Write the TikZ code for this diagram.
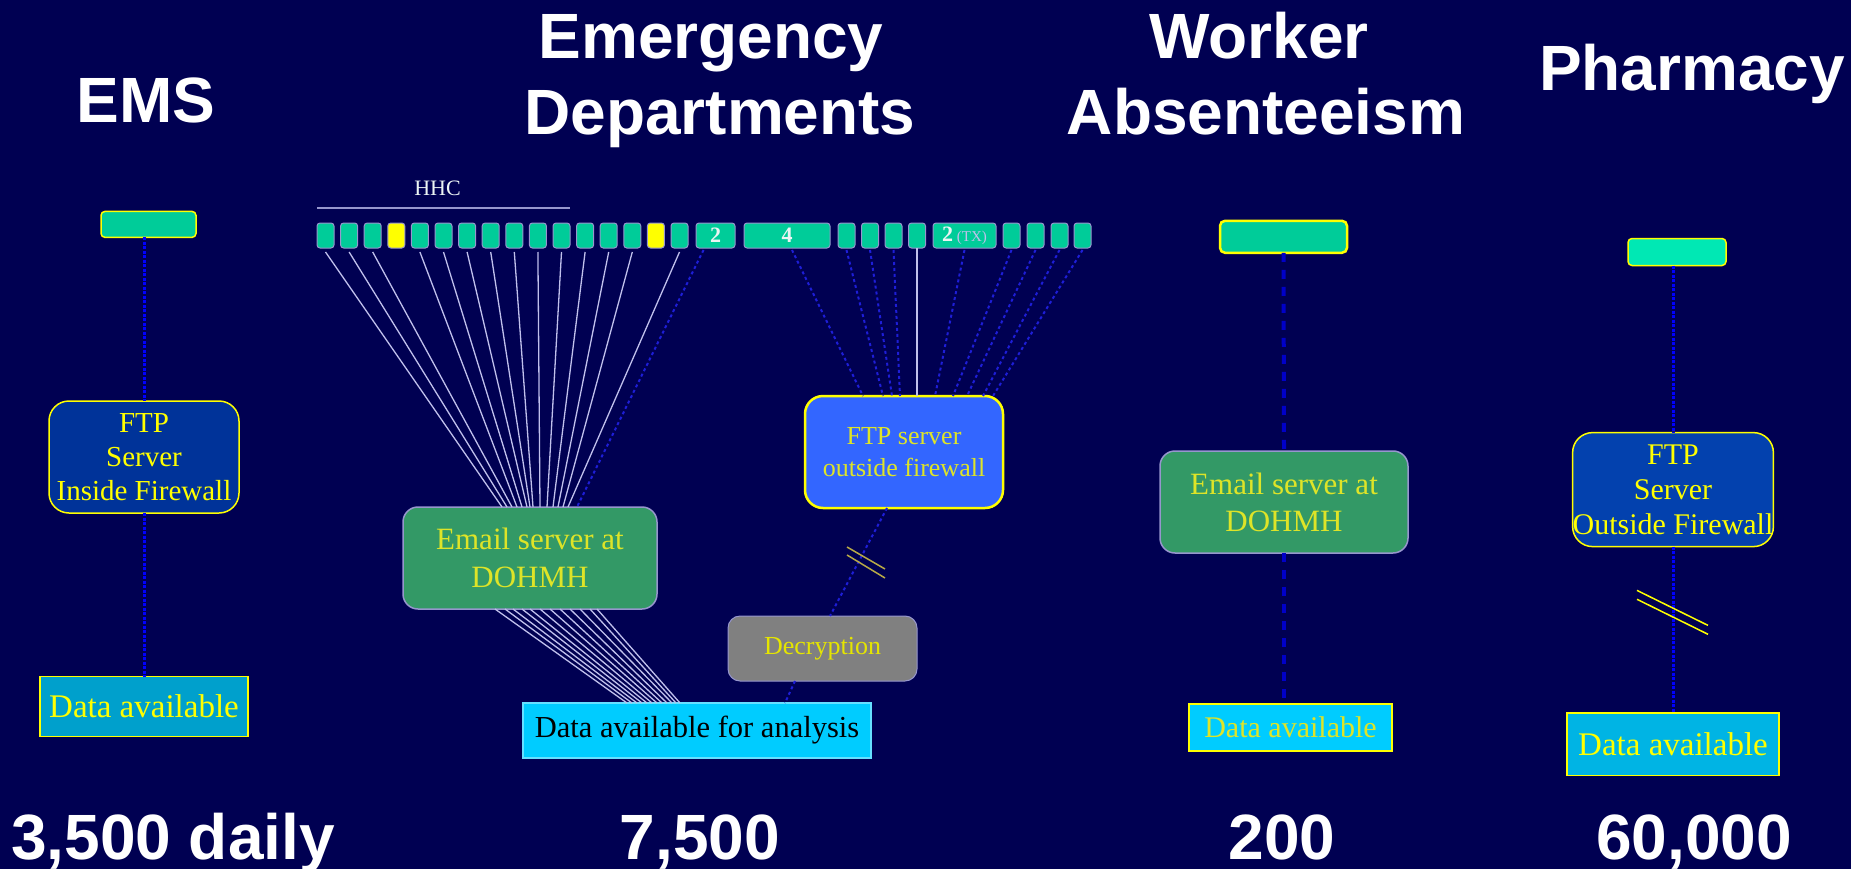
\documentclass[tikz,border=0pt]{standalone}
\usepackage{fontspec}
\setmainfont{Liberation Serif}
\newfontfamily\headfont{Liberation Sans}

\definecolor{bg}{RGB}{0,0,82}
\definecolor{tealfill}{RGB}{0,204,153}
\definecolor{tealbright}{RGB}{0,232,180}
\definecolor{mailgreen}{RGB}{51,153,102}
\definecolor{ftpdark}{RGB}{0,51,153}
\definecolor{ftpdarkb}{RGB}{3,65,174}
\definecolor{ftplight}{RGB}{51,102,255}
\definecolor{skyfill}{RGB}{0,160,204}
\definecolor{skyfillb}{RGB}{0,180,228}
\definecolor{cyanfill}{RGB}{0,204,255}
\definecolor{greyfill}{RGB}{128,128,128}
\definecolor{lav}{RGB}{192,192,236}
\definecolor{lavedge}{RGB}{150,150,205}
\definecolor{linkblue}{RGB}{0,0,255}
\definecolor{linkblueb}{RGB}{30,30,215}
\definecolor{dashblue}{RGB}{0,0,200}
\definecolor{hiyellow}{RGB}{255,255,0}
\definecolor{softyellow}{RGB}{222,228,40}
\definecolor{markolive}{RGB}{185,170,70}
\definecolor{digitwhite}{RGB}{236,244,244}

\begin{document}
\begin{tikzpicture}[x=1pt,y=-1pt,
  every node/.style={inner sep=0pt, outer sep=0pt},
  head/.style={font=\headfont\bfseries\fontsize{64}{64}\selectfont, text=white, anchor=base},
  srcbar/.style={draw=hiyellow, line width=1.5pt, fill=tealfill, rounded corners=4pt},
  ftpbox/.style={draw=hiyellow, line width=1.5pt, rounded corners=20pt, text=hiyellow, align=center},
  databox/.style={draw=hiyellow, line width=1.5pt, text=hiyellow},
  mailbox/.style={draw=lavedge, line width=1.5pt, fill=mailgreen, rounded corners=15pt, text=softyellow, align=center},
  rowbox/.style={draw=lavedge, line width=1pt, rounded corners=3pt, minimum height=25pt},
  rowtext/.style={font=\bfseries\fontsize{22}{22}\selectfont, text=digitwhite},
  bluedot/.style={draw=linkblue, line width=3pt, dash pattern=on 3pt off 1.5pt},
  eddot/.style={draw=linkblueb, line width=2pt, dash pattern=on 3pt off 3pt},
  wadash/.style={draw=dashblue, line width=4pt, dash pattern=on 9pt off 8pt},
  lavline/.style={draw=lav, line width=1.3pt},
  breakmark/.style={line width=1.5pt}
]
% canvas
\fill[bg] (0,0) rectangle (1851,869);
\useasboundingbox (0,0) rectangle (1851,869);

% ---------------- headings ----------------
\node[head] (hEms)   at (146,123) {EMS};
\node[head] (hEd1)   at (711,58.5) {Emergency};
\node[head] (hEd2)   at (720,135) {Departments};
\node[head] (hWa1)   at (1259,58.5) {Worker};
\node[head] (hWa2)   at (1266,135) {Absenteeism};
\node[head] (hPh)    at (1692,91) {Pharmacy};

% ---------------- volumes ----------------
\node[head] (vEms) at (173,859)  {3,500 daily};
\node[head] (vEd)  at (700,859)  {7,500};
\node[head] (vWa)  at (1282,859) {200};
\node[head] (vPh)  at (1694,859) {60,000};

% ---------------- EMS ----------------
\node[srcbar, minimum width=95pt, minimum height=26pt] (emsSrc) at (148.5,224.4) {};
\node[ftpbox, fill=ftpdark, minimum width=190pt, minimum height=112pt,
      font=\fontsize{29}{34}\selectfont] (emsFtp) at (144,457) {FTP\\Server\\Inside Firewall};
\node[databox, fill=skyfill, minimum width=208pt, minimum height=60pt,
      font=\fontsize{33}{33}\selectfont] (emsData) at (144,706.5) {Data available};
\draw[bluedot] (emsFtp.north |- emsSrc.south) -- (emsFtp.north);
\draw[bluedot] (emsFtp.south) -- (emsData.north);

% ---------------- Emergency Departments ----------------
\node[font=\fontsize{22}{22}\selectfont, text=digitwhite, anchor=base] (hhc) at (437.5,196) {HHC};
\coordinate (hhcL) at (317,208);
\coordinate (hhcR) at (570,208);
\draw[draw=lavedge, line width=2pt] (hhcL) -- (hhcR);

% hospital feeds: sixteen single boxes
\foreach \i/\c in {1/tealfill,2/tealfill,3/tealfill,4/hiyellow,5/tealfill,6/tealfill,
                   7/tealfill,8/tealfill,9/tealfill,10/tealfill,11/tealfill,12/tealfill,
                   13/tealfill,14/tealfill,15/hiyellow,16/tealfill}{
  \pgfmathsetmacro{\cx}{325.5+(\i-1)*23.6}
  \node[rowbox, fill=\c, minimum width=17pt] (r\i) at (\cx,235.5) {};
}
\node[rowbox, fill=tealfill, minimum width=39pt] (r17) at (715.5,235.5) {};
\node[rowbox, fill=tealfill, minimum width=86pt] (r18) at (787,235.5) {};
\foreach \i/\cx in {19/846.5,20/870,21/893.5,22/917}{
  \node[rowbox, fill=tealfill, minimum width=17pt] (r\i) at (\cx,235.5) {};
}
\node[rowbox, fill=tealfill, minimum width=63pt] (r23) at (964.5,235.5) {};
\foreach \i/\cx in {24/1011.5,25/1035.5,26/1059.5,27/1082.5}{
  \node[rowbox, fill=tealfill, minimum width=17pt] (r\i) at (\cx,235.5) {};
}
\node[rowtext] (r17t) at (r17) {2};
\node[rowtext] (r18t) at (r18) {4};
\node[rowtext] (r23t) at (r23) {2\,{\mdseries\fontsize{15}{15}\selectfont\color{lav}(TX)}};

% servers and outputs
\node[mailbox, minimum width=254pt, minimum height=102pt,
      font=\fontsize{31}{38}\selectfont] (edMail) at (530,558) {Email server at\\DOHMH};
\node[ftpbox, fill=ftplight, line width=2.5pt, rounded corners=18pt, minimum width=198pt,
      minimum height=112pt, text=softyellow, font=\fontsize{26}{32}\selectfont]
      (edFtp) at (904,452) {FTP server\\outside firewall};
\node[draw=lavedge, line width=1pt, fill=greyfill, rounded corners=12pt, minimum width=189pt,
      minimum height=65pt, text=hiyellow!90!black, font=\fontsize{26}{26}\selectfont]
      (edDec) at (822.5,648.5) {Decryption};
\node[draw=cyanfill!60!white, line width=1.5pt, fill=cyanfill, minimum width=348pt,
      minimum height=55pt, text=black, font=\fontsize{30.5}{30.5}\selectfont]
      (edData) at (697,730.5) {Data available for analysis};

% feeds into the email server
\foreach \i/\s in {1/99,2/104,3/109,5/114,6/119,7/124,8/127,9/130,10/137,11/144,12/150,13/155,14/160,16/165}{
  \draw[lavline] ([yshift=-4pt]r\i.south) -- ([xshift=\s pt]edMail.north west);
}
\draw[eddot] ([xshift=-12pt,yshift=-2pt]r17.south) -- ([xshift=174pt]edMail.north west);

% email server to analysis
\foreach \a/\b in {92/104,102/109,110/114,119/119,127/124,137/129,147/134,157/139,167/144,177/149,187/153,194/157}{
  \draw[lavline] ([xshift=\a pt]edMail.south west) -- ([xshift=\b pt]edData.north west);
}

% feeds into the outside FTP server
\draw[eddot] ([xshift=5pt,yshift=-2pt]r18.south) -- ([xshift=58pt]edFtp.north west);
\foreach \i/\s in {19/78,20/87,21/95,23/130,24/148,25/162,26/178,27/188}{
  \draw[eddot] ([yshift=-2pt]r\i.south) -- ([xshift=\s pt]edFtp.north west);
}
\draw[lavline] (r22.south) -- (r22.south |- edFtp.north);

% FTP server to decryption to analysis
\draw[eddot] ([xshift=82pt]edFtp.south west) -- ([xshift=102pt]edDec.north west);
\draw[eddot] ([xshift=67pt]edDec.south west) -- ([xshift=262pt]edData.north west);
\draw[breakmark, draw=markolive] (847,547) -- (885,569);
\draw[breakmark, draw=markolive] (847,555) -- (885,578);

% ---------------- Worker Absenteeism ----------------
\node[srcbar, line width=2.5pt, rounded corners=5pt, minimum width=127pt, minimum height=32pt] (waSrc) at (1283.5,236.8) {};
\node[mailbox, minimum width=248pt, minimum height=102pt,
      font=\fontsize{31}{37}\selectfont] (waMail) at (1284,502) {Email server at\\DOHMH};
\node[databox, fill=cyanfill, line width=2.5pt, text=softyellow, minimum width=203pt,
      minimum height=47pt, font=\fontsize{30}{30}\selectfont] (waData) at (1290.5,727.3) {Data available};
\draw[wadash] (waSrc.south) -- (waMail.north);
\draw[wadash] (waMail.south) -- (waMail.south |- waData.north);

% ---------------- Pharmacy ----------------
\node[srcbar, fill=tealbright, minimum width=98pt, minimum height=27pt] (phSrc) at (1677,252) {};
\node[ftpbox, fill=ftpdarkb, minimum width=194pt, minimum height=114pt,
      font=\fontsize{30}{35}\selectfont] (phFtp) at (1673,489.6) {FTP\\Server\\Outside Firewall};
\node[databox, fill=skyfillb, minimum width=212pt, minimum height=62.5pt,
      font=\fontsize{33}{33}\selectfont] (phData) at (1673,744) {Data available};
\draw[bluedot] (phSrc.south -| phFtp.north) -- (phFtp.north);
\draw[bluedot] (phFtp.south) -- (phData.north);
\draw[breakmark, draw=hiyellow] (1637,590.4) -- (1708,625.4);
\draw[breakmark, draw=hiyellow] (1637,599.3) -- (1708,634.3);
\end{tikzpicture}
\end{document}
